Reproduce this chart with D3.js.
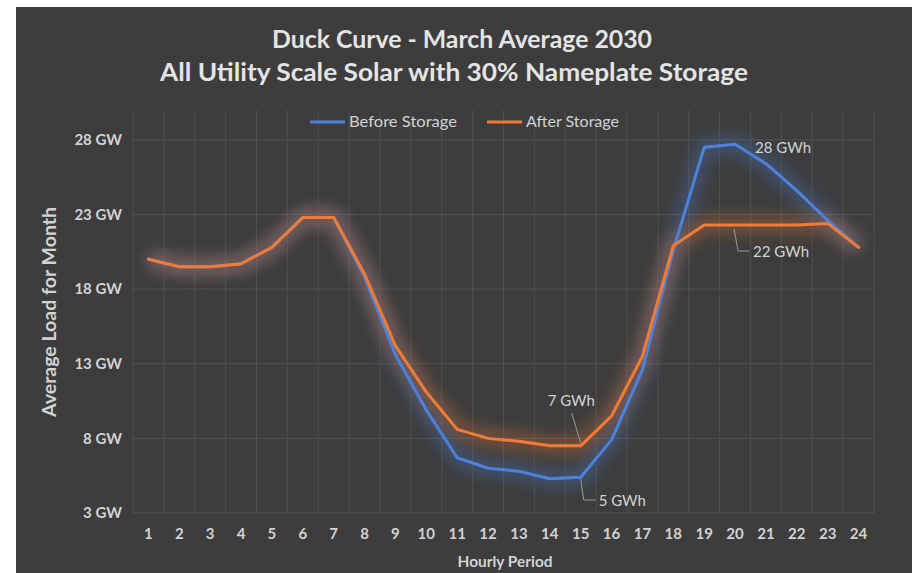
<!DOCTYPE html>
<html>
<head>
<meta charset="utf-8">
<script src="https://cdn.jsdelivr.net/npm/d3@7"></script>
<style>
  html, body { margin: 0; padding: 0; background: #ffffff; }
  svg { display: block; }
  text { font-family: Lato, "Open Sans", sans-serif; }
</style>
</head>
<body>
<script>
// Hourly periods and average monthly load (GW)
const hours = ["1","2","3","4","5","6","7","8","9","10","11","12","13","14","15","16","17","18","19","20","21","22","23","24"];
const beforeStorage = [20.0, 19.5, 19.5, 19.7, 20.8, 22.8, 22.8, 18.8, 13.6, 9.9, 6.7, 6.0, 5.8, 5.3, 5.4, 7.9, 12.6, 20.6, 27.5, 27.7, 26.4, 24.6, 22.6, 20.8];
const afterStorage  = [20.0, 19.5, 19.5, 19.7, 20.8, 22.8, 22.8, 19.0, 14.2, 11.1, 8.6, 8.0, 7.8, 7.5, 7.5, 9.5, 13.5, 20.9, 22.3, 22.3, 22.3, 22.3, 22.4, 20.8];
const yTicks = [3, 8, 13, 18, 23, 28];
const seriesNames = ["Before Storage", "After Storage"];
const titleLines = ["Duck Curve - March Average 2030", "All Utility Scale Solar with 30% Nameplate Storage"];

const W = 912, H = 573;
const C = { bg: "#3d3d3d", grid: "#535353", text: "#d2d2d2", blue: "#4d82dc", orange: "#f27b36", lead: "#9a9a9a" };

const svg = d3.select("body").append("svg").attr("width", W).attr("height", H);

// dark panel
svg.append("rect").attr("x", 16).attr("y", 7).attr("width", W - 16).attr("height", H - 7).attr("fill", C.bg);

const defs = svg.append("defs");
const f = defs.append("filter").attr("id", "glow").attr("x", "-20%").attr("y", "-20%").attr("width", "140%").attr("height", "140%");
f.append("feGaussianBlur").attr("stdDeviation", 8);

const x = d3.scaleBand().domain(hours).range([133, 874]).padding(0);
const cx = h => x(h) + x.bandwidth() / 2;
const y = d3.scaleLinear().domain([3, 30]).range([513, 110]);

// gridlines
const grid = svg.append("g");
grid.selectAll("line.h").data(yTicks).join("line")
  .attr("x1", 133).attr("x2", 874)
  .attr("y1", d => y(d)).attr("y2", d => y(d))
  .attr("stroke", C.grid).attr("stroke-width", 1);
const bounds = hours.map(h => x(h)).concat([x(hours[hours.length - 1]) + x.bandwidth()]);
grid.selectAll("line.v").data(bounds).join("line")
  .attr("x1", d => d).attr("x2", d => d)
  .attr("y1", y(30)).attr("y2", y(3))
  .attr("stroke", C.grid).attr("stroke-width", 1).attr("opacity", 0.8);

// y axis
const yAxis = d3.axisLeft(y).tickValues(yTicks).tickFormat(d => d + " GW").tickSize(0).tickPadding(11);
const gy = svg.append("g").attr("transform", "translate(133,0)").call(yAxis);
gy.select(".domain").remove();
gy.selectAll("text").attr("fill", C.text).style("font-size", "15px").style("font-weight", "bold")
  .style("font-family", "Lato, sans-serif");

// x axis
const xAxis = d3.axisBottom(x).tickSize(0).tickPadding(0);
const gx = svg.append("g").attr("transform", "translate(0,528)").call(xAxis);
gx.select(".domain").remove();
gx.selectAll("text").attr("fill", C.text).style("font-size", "15px").style("font-weight", "bold")
  .style("font-family", "Lato, sans-serif").attr("dy", "0.71em").attr("y", 0);

// series
const line = d3.line().x((d, i) => cx(hours[i])).y(d => y(d));
const series = [
  { name: seriesNames[0], values: beforeStorage, color: C.blue },
  { name: seriesNames[1], values: afterStorage, color: C.orange }
];
const gl = svg.append("g");
series.forEach(s => {
  gl.append("path").datum(s.values).attr("d", line)
    .attr("fill", "none").attr("stroke", s.color).attr("stroke-width", 16)
    .attr("stroke-opacity", 0.34).attr("stroke-linejoin", "round")
    .attr("filter", "url(#glow)");
});
series.forEach(s => {
  gl.append("path").datum(s.values).attr("d", line)
    .attr("fill", "none").attr("stroke", s.color).attr("stroke-width", 3)
    .attr("stroke-linejoin", "round").attr("stroke-linecap", "round");
});

// titles
svg.append("text").attr("x", 462).attr("y", 48).attr("text-anchor", "middle")
  .attr("fill", "#e4e4e4").style("font-size", "24px").style("font-weight", "bold")
  .attr("textLength", 380).attr("lengthAdjust", "spacingAndGlyphs").text(titleLines[0]);
svg.append("text").attr("x", 454).attr("y", 81).attr("text-anchor", "middle")
  .attr("fill", "#e4e4e4").style("font-size", "24px").style("font-weight", "bold")
  .attr("textLength", 588).attr("lengthAdjust", "spacingAndGlyphs").text(titleLines[1]);

// legend
const leg = [{ x: 310, s: series[0], w: 108 }, { x: 487, s: series[1], w: 93 }];
leg.forEach(l => {
  svg.append("line").attr("x1", l.x).attr("x2", l.x + 35).attr("y1", 122).attr("y2", 122)
    .attr("stroke", l.s.color).attr("stroke-width", 3);
  svg.append("text").attr("x", l.x + 39).attr("y", 127).attr("fill", C.text)
    .style("font-size", "15px").attr("textLength", l.w).attr("lengthAdjust", "spacingAndGlyphs")
    .text(l.s.name);
});

// axis titles
svg.append("text").attr("x", 505).attr("y", 567).attr("text-anchor", "middle")
  .attr("fill", C.text).style("font-size", "15px").style("font-weight", "bold")
  .attr("textLength", 95).attr("lengthAdjust", "spacingAndGlyphs").text("Hourly Period");
svg.append("text").attr("transform", "translate(56,312) rotate(-90)").attr("text-anchor", "middle")
  .attr("fill", C.text).style("font-size", "18px").style("font-weight", "bold")
  .attr("textLength", 210).attr("lengthAdjust", "spacingAndGlyphs").text("Average Load for Month");

// energy annotations with leader lines
const ann = svg.append("g");
const lab = (tx, ty, t) => ann.append("text").attr("x", tx).attr("y", ty).attr("fill", C.text)
  .style("font-size", "15px").text(t);
const lead = pts => ann.append("path").attr("d", d3.line()(pts)).attr("fill", "none")
  .attr("stroke", C.lead).attr("stroke-width", 1);

lab(cx("20") + 20, y(beforeStorage[19]) + 9, "28 GWh");

lead([[cx("20") - 1, y(afterStorage[19]) + 4], [cx("20") + 3, 251], [cx("20") + 14, 251]]);
lab(cx("20") + 18, 257, "22 GWh");

lead([[cx("15") - 9, 413], [cx("15"), y(afterStorage[14]) - 3]]);
lab(cx("15") - 33, 406, "7 GWh");

lead([[cx("15"), y(beforeStorage[14]) + 2], [cx("15") + 3, 500], [cx("15") + 15, 500]]);
lab(cx("15") + 18, 506, "5 GWh");
</script>
</body>
</html>
